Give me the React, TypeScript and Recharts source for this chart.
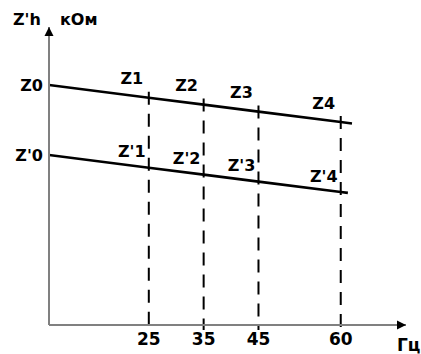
import React from 'react';
import { LineChart, Line, XAxis, YAxis, ReferenceLine, ReferenceDot, LabelList } from 'recharts';

const upperX = [6.8, 25, 35, 45, 60, 62.05];
const upperY = [24.0, 22.73, 22.04, 21.34, 20.3, 20.15];
const upperNames = ['', 'Z1', 'Z2', 'Z3', 'Z4', ''];

const lowerX = [6.8, 25, 35, 45, 60, 61.3];
const lowerY = [17.0, 15.73, 15.04, 14.34, 13.3, 13.21];
const lowerNames = ['', "Z'1", "Z'2", "Z'3", "Z'4", ''];

const freqTicks = [25, 35, 45, 60];
const dashTops = [23.33, 22.64, 21.94, 20.9];
const yTicks = [24, 17];
const yTickLabels = ['Z0', "Z'0"];
const xDomain = [6.8, 71.9];
const yDomain = [0, 29.8];

const upperData = upperX.map((x, i) => ({ x, v: upperY[i], name: upperNames[i] }));
const lowerData = lowerX.map((x, i) => ({ x, v: lowerY[i], name: lowerNames[i] }));

const FONT = "'DejaVu Sans', sans-serif";

const makeLabel = (dx: number, dy: number) => (props: any) => {
  const { x, y, value } = props;
  if (!value) return null;
  return (
    <text x={x + dx} y={y + dy} textAnchor="middle" dominantBaseline="central"
      fontFamily={FONT} fontWeight="bold" fontSize={16} fill="#000">{value}</text>
  );
};

const XArrow = (props: any) => {
  const { cx, cy } = props;
  return <polygon points={`${cx},${cy} ${cx - 9},${cy - 4.5} ${cx - 9},${cy + 4.5}`} fill="#000" />;
};
const YArrow = (props: any) => {
  const { cx, cy } = props;
  return <polygon points={`${cx},${cy} ${cx - 4.5},${cy + 9} ${cx + 4.5},${cy + 9}`} fill="#000" />;
};

export default function App() {
  return (
    <div style={{ position: 'absolute', left: 0, top: 0, width: 421, height: 354, background: '#fff' }}>
      <LineChart width={421} height={354} margin={{ top: 27, right: 15, bottom: 0, left: 0 }}>
        <XAxis type="number" dataKey="x" domain={xDomain} ticks={freqTicks} allowDataOverflow
          height={29} tickSize={0} tickMargin={8}
          axisLine={{ stroke: '#808080', strokeWidth: 2 }}
          tick={{ fontFamily: FONT, fontWeight: 'bold', fontSize: 17, fill: '#000' }}
          label={(p: any) => {
            const vb = p.viewBox;
            return (
              <text x={vb.x + vb.width - 9} y={vb.y + 26} fontFamily={FONT} fontWeight="bold" fontSize={17} fill="#000">Гц</text>
            );
          }} />
        <YAxis type="number" domain={yDomain} ticks={yTicks} allowDataOverflow width={49}
          tickSize={0} tickMargin={6}
          tickFormatter={(v: number) => yTickLabels[yTicks.indexOf(v)] ?? ''}
          axisLine={{ stroke: '#808080', strokeWidth: 2 }}
          tick={{ fontFamily: FONT, fontWeight: 'bold', fontSize: 16, fill: '#000' }}
          label={(p: any) => {
            const vb = p.viewBox;
            const right = vb.x + vb.width;
            return (
              <g>
                <text x={right - 36} y={vb.y - 2} fontFamily={FONT} fontWeight="bold" fontSize={16} fill="#000">Z'h</text>
                <text x={right + 11} y={vb.y - 2} fontFamily={FONT} fontWeight="bold" fontSize={16} fill="#000">кОм</text>
              </g>
            );
          }} />
        {freqTicks.map((f, i) => (
          <ReferenceLine key={f} ifOverflow="visible"
            segment={[{ x: f, y: dashTops[i] }, { x: f, y: -0.5 }]}
            stroke="#000" strokeWidth={2} strokeDasharray="13 9" />
        ))}
        <Line data={upperData} dataKey="v" type="linear" stroke="#000" strokeWidth={2.6}
          dot={false} activeDot={false} isAnimationActive={false}>
          <LabelList dataKey="name" content={makeLabel(-17, -19)} />
        </Line>
        <Line data={lowerData} dataKey="v" type="linear" stroke="#000" strokeWidth={2.6}
          dot={false} activeDot={false} isAnimationActive={false}>
          <LabelList dataKey="name" content={makeLabel(-17, -16)} />
        </Line>
        <ReferenceDot x={xDomain[1]} y={0} ifOverflow="visible" shape={XArrow} />
        <ReferenceDot x={xDomain[0]} y={yDomain[1]} ifOverflow="visible" shape={YArrow} />
      </LineChart>
    </div>
  );
}
